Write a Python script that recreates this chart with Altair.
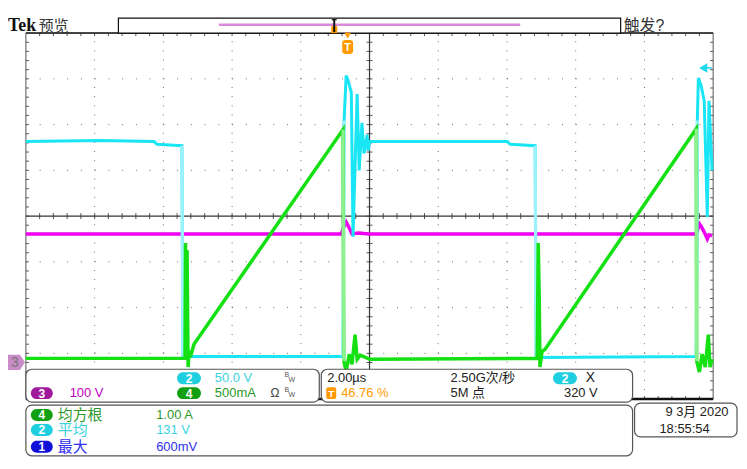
import altair as alt
import numpy as np
import pandas as pd

# ---------------- waveform data (time in µs, 2 µs/div; vertical in screen divisions) ----------------
cyan_t = [0, 2.14, 3.73, 3.82, 4.54, 4.57, 4.63, 4.75, 9.23, 9.26, 9.32, 9.38, 9.47, 9.52, 9.64, 9.70,
          9.78, 9.84, 9.93, 9.96, 10.01, 14.01, 14.10, 14.82, 14.85, 14.94, 19.51, 19.54, 19.57, 19.65,
          19.74, 19.83, 19.88, 19.97]
cyan_d = [1.63, 1.65, 1.63, 1.57, 1.54, -3.07, -3.09, -3.07, -3.07, 2.09, 3.07, 2.96, 2.70, -0.45, 2.67,
          1.00, 2.04, 1.37, 1.78, 1.43, 1.63, 1.63, 1.57, 1.54, -3.07, -3.09, -3.07, 2.09, 3.02, 2.85,
          2.52, -0.02, 2.52, 1.00]

green_t = [0, 4.63, 4.645, 4.66, 4.69, 4.72, 4.75, 4.81, 4.89, 9.23, 9.25, 9.32, 9.41, 9.49, 9.58, 9.64,
           9.73, 10.01, 14.88, 14.91, 14.94, 14.96, 15.02, 15.11, 19.51, 19.52, 19.60, 19.68, 19.77,
           19.86, 19.91, 19.97]
green_d = [-3.11, -3.11, -0.59, -1.83, -0.74, -3.30, -2.96, -3.02, -2.80, 1.89, -3.17, -3.39, -3.02,
           -3.24, -2.59, -3.13, -3.04, -3.13, -3.11, -0.59, -1.83, -3.30, -2.96, -2.91, 1.91, -3.17,
           -3.41, -3.02, -3.30, -2.59, -3.30, -3.13]

mag_t = [0, 9.18, 9.26, 9.32, 9.41, 9.49, 9.67, 9.99, 19.51, 19.60, 19.65, 19.74, 19.83, 19.88, 19.97]
mag_d = [-0.39, -0.39, -0.22, -0.13, -0.26, -0.39, -0.37, -0.39, -0.39, -0.17, -0.22, -0.35, -0.50,
         -0.41, -0.43]

# fast edges (drawn in a lighter shade, as on the scope's intensity-graded display): index pairs
cyan_edges = [(4, 5), (8, 9), (23, 24), (26, 27)]
green_edges = [(9, 10), (24, 25)]

# ---------------- readouts ----------------
ch2_scale = "50.0 V"
ch3_scale = "100 V"
ch4_scale = "500mA"
timebase = "2.00µs"
trig_pos = "46.76 %"
sample_rate = "2.50G次/秒"
record_len = "5M 点"
trig_level = "320 V"
meas_ch = ["4", "2", "1"]
meas_names = ["均方根", "平均", "最大"]
meas_values = ["1.00 A", "131 V", "600mV"]
date_str = "9 3月 2020"
time_str = "18:55:54"

# ---------------- layout ----------------
OFF = 8
W, H = 735, 452
GX0, GX1, GY0, GY1 = 26, 717, 32, 400
FONT = "Liberation Sans, Noto Sans CJK SC, sans-serif"

CY_TR, GR_TR, MG_TR = "#19e5f5", "#14e014", "#f000f0"
CY_ED, GR_ED = "#9cf2fb", "#8ef08e"
CYT, CYB = "#3cd2e2", "#1fcfdf"
MGT, PUB = "#c000c0", "#a0189c"
GRT, GRB = "#2a9a2a", "#12a012"
BLT, BLB = "#3030f0", "#1010d8"
ORT = "#ff9a00"


def P(v):
    return v - OFF


xs = alt.Scale(domain=[0, 20], range=[P(GX0), P(GX1)], nice=False, zero=False)
ys = alt.Scale(domain=[-4, 4], range=[P(GY1), P(GY0)], nice=False, zero=False)


def X(f):
    return alt.X(f, scale=xs, axis=None)


def Y(f):
    return alt.Y(f, scale=ys, axis=None)


def PX(f):
    return alt.X(f, scale=None, axis=None)


def PY(f):
    return alt.Y(f, scale=None, axis=None)


layers = []

# white background of whole canvas
bg = pd.DataFrame({"x": [0], "x2": [W], "y": [0], "y2": [H]})
layers.append(alt.Chart(bg).mark_rect(fill="white").encode(
    x=PX("x:Q"), x2="x2:Q", y=PY("y:Q"), y2="y2:Q"))

# dotted grid
vg = pd.DataFrame({"t": [2, 4, 6, 8, 12, 14, 16, 18], "a": -4, "b": 4})
layers.append(alt.Chart(vg).mark_rule(color="#6a6a6a", strokeWidth=1, strokeDash=[1, 8.2]).encode(
    x=X("t:Q"), y=Y("a:Q"), y2="b:Q"))
hg = pd.DataFrame({"d": [-3, -2, -1, 1, 2, 3], "a": 0, "b": 20})
layers.append(alt.Chart(hg).mark_rule(color="#6a6a6a", strokeWidth=1, strokeDash=[1, 12.82]).encode(
    y=Y("d:Q"), x=X("a:Q"), x2="b:Q"))

# ticks on border and on centre lines
tlx, tly = 3 / 34.55, 3 / 46.0
rows = []
for k in range(1, 50):
    t = k * 0.4
    rows.append((t, t, 4, 4 - tly))
    rows.append((t, t, -4, -4 + tly))
    rows.append((t, t, -tly, tly))
for k in range(1, 40):
    d = -4 + k * 0.2
    rows.append((0, tlx, d, d))
    rows.append((20, 20 - tlx, d, d))
    rows.append((10 - tlx, 10 + tlx, d, d))
ticks = pd.DataFrame(rows, columns=["x", "x2", "y", "y2"])
layers.append(alt.Chart(ticks).mark_rule(color="#555", strokeWidth=1).encode(
    x=X("x:Q"), x2="x2:Q", y=Y("y:Q"), y2="y2:Q"))

# centre cross
layers.append(alt.Chart(pd.DataFrame({"t": [10], "a": [-4], "b": [4]})).mark_rule(
    color="#333", strokeWidth=1.2).encode(x=X("t:Q"), y=Y("a:Q"), y2="b:Q"))
layers.append(alt.Chart(pd.DataFrame({"d": [0], "a": [0], "b": [20]})).mark_rule(
    color="#333", strokeWidth=1.2).encode(y=Y("d:Q"), x=X("a:Q"), x2="b:Q"))

# border
layers.append(alt.Chart(pd.DataFrame({"x": [0], "x2": [20], "y": [-4], "y2": [4]})).mark_rect(
    fill="transparent", stroke="#555", strokeWidth=1).encode(
    x=X("x:Q"), x2="x2:Q", y=Y("y:Q"), y2="y2:Q"))
layers.append(alt.Chart(pd.DataFrame({"d": [4], "a": [0], "b": [20]})).mark_rule(
    color="#222", strokeWidth=1.5).encode(y=Y("d:Q"), x=X("a:Q"), x2="b:Q"))
layers.append(alt.Chart(pd.DataFrame({"d": [-4], "a": [0], "b": [20]})).mark_rule(
    color="#111", strokeWidth=2.5).encode(y=Y("d:Q"), x=X("a:Q"), x2="b:Q"))


# traces
def trace(t, d, color, sw):
    df = pd.DataFrame({"t": t, "d": d, "i": range(len(t))})
    return alt.Chart(df).mark_line(color=color, strokeWidth=sw).encode(
        x=X("t:Q"), y=Y("d:Q"), order="i:Q")


def edges(t, d, pairs, color, sw):
    df = pd.DataFrame([(t[a], t[b], d[a], d[b]) for a, b in pairs], columns=["x", "x2", "y", "y2"])
    return alt.Chart(df).mark_rule(color=color, strokeWidth=sw).encode(
        x=X("x:Q"), x2="x2:Q", y=Y("y:Q"), y2="y2:Q")


layers.append(trace(mag_t, mag_d, MG_TR, 3.5))
layers.append(trace(cyan_t, cyan_d, CY_TR, 3))
layers.append(edges(cyan_t, cyan_d, cyan_edges, CY_ED, 3.2))
layers.append(trace(green_t, green_d, GR_TR, 3.5))
layers.append(edges(green_t, green_d, green_edges, GR_ED, 3.2))


# ---------- pixel-positioned decorations ----------
def rects(items, **kw):
    df = pd.DataFrame([(P(a), P(c), P(b), P(d), f) for (a, b, c, d, f) in items],
                      columns=["x", "x2", "y", "y2", "f"])
    return alt.Chart(df).mark_rect(**kw).encode(
        x=PX("x:Q"), x2="x2:Q", y=PY("y:Q"), y2="y2:Q",
        fill=alt.Fill("f:N", scale=None))


def texts(items, align="left", weight="normal", font=FONT):
    df = pd.DataFrame([(P(x), P(y), s, c, z) for (x, y, s, c, z) in items],
                      columns=["x", "y", "s", "c", "z"])
    return alt.Chart(df).mark_text(align=align, baseline="middle", font=font, fontWeight=weight).encode(
        x=PX("x:Q"), y=PY("y:Q"), text="s:N",
        color=alt.Color("c:N", scale=None), size=alt.Size("z:Q", scale=None))


def rules(items):
    df = pd.DataFrame([(P(a), P(c), P(b), P(d), col, w) for (a, b, c, d, col, w) in items],
                      columns=["x", "x2", "y", "y2", "c", "w"])
    return alt.Chart(df).mark_rule().encode(
        x=PX("x:Q"), x2="x2:Q", y=PY("y:Q"), y2="y2:Q",
        color=alt.Color("c:N", scale=None), size=alt.Size("w:Q", scale=None))


def points(items, shape, size):
    df = pd.DataFrame([(P(x), P(y), c) for (x, y, c) in items], columns=["x", "y", "c"])
    return alt.Chart(df).mark_point(shape=shape, filled=True, size=size, opacity=1).encode(
        x=PX("x:Q"), y=PY("y:Q"), fill=alt.Fill("c:N", scale=None))


# record bar at top
layers.append(rects([(119, 17, 624, 32, "white")], stroke="#111", strokeWidth=1.2))
layers.append(rules([(220, 23.5, 523, 23.5, "#d98ad9", 2.5)]))
layers.append(rects([(333, 25, 339, 32, ORT)]))
layers.append(rules([(336, 18, 336, 31, "#111", 2), (333.5, 18.5, 338.5, 18.5, "#111", 1.2)]))

# trigger position marker
layers.append(points([(349.5, 34.5, ORT)], "triangle-down", 45))
layers.append(rects([(344, 39, 355, 53, ORT)], cornerRadius=3))
layers.append(texts([(349.5, 46.5, "T", "white", 11)], align="center", weight="bold"))

# trigger level arrow (right)
layers.append(points([(707, 67, "#22d8ee")], "triangle-left", 90))
layers.append(rules([(709, 67, 716, 67, "#22d8ee", 1.5)]))

# channel 3 ground marker (left)
layers.append(points([(16, 363, "#c88cc8")],
                     "M-1,-0.85L0.45,-0.85L1,0L0.45,0.85L-1,0.85Z", 324))
layers.append(texts([(15, 363.5, "3", "#777", 14)], align="center"))

# info boxes
layers.append(rects([(26, 370, 321, 403, "white"), (323, 370, 636, 403, "white"),
                     (26, 406, 636, 457, "white"), (638, 404, 741, 438, "white")],
                    cornerRadius=6, stroke="#555", strokeWidth=1.2))

# badges
badges = [(178, 373, 202, 385, CYB, "2"), (31, 388, 53, 400, PUB, "3"), (178, 388, 202, 400, GRB, "4"),
          (556, 373, 580, 385, CYB, "2"),
          (31, 410, 53, 422, GRB, meas_ch[0]), (31, 425, 53, 437, CYB, meas_ch[1]),
          (31, 442, 53, 454, BLB, meas_ch[2])]
layers.append(rects([(a, b, c, d, f) for (a, b, c, d, f, _) in badges], cornerRadius=6))
layers.append(texts([((a + c) / 2, (b + d) / 2 + 0.5, s, "white", 12) for (a, b, c, d, f, s) in badges],
                    align="center", weight="bold"))
layers.append(rects([(328, 388, 338, 400, ORT)], cornerRadius=2))
layers.append(texts([(333, 394.5, "T", "white", 10)], align="center", weight="bold"))

# top texts
layers.append(texts([(8, 25, "Tek", "#111", 18)], weight="bold", font="Liberation Serif"))

left_texts = [
    (39, 25, "预览", "#333", 15),
    (627, 25, "触发?", "#333", 16),
    (216, 379, ch2_scale, CYT, 13),
    (70, 394, ch3_scale, MGT, 13),
    (216, 394, ch4_scale, GRT, 13),
    (272, 394, "Ω", "#444", 12),
    (286, 376, "B", "#555", 7), (290, 381, "W", "#555", 7),
    (286, 391, "B", "#555", 7), (290, 396, "W", "#555", 7),
    (329, 379, timebase, "#222", 13),
    (343, 394, trig_pos, ORT, 13),
    (453, 379, sample_rate, "#222", 13),
    (453, 394, record_len, "#222", 13),
    (589, 379, "X", "#222", 14),
    (567, 394, trig_level, "#222", 13),
    (58, 416, meas_names[0], GRT, 15), (157, 416, meas_values[0], GRT, 13),
    (58, 431, meas_names[1], CYT, 15), (157, 431, meas_values[1], CYT, 13),
    (58, 448, meas_names[2], BLT, 15), (157, 448, meas_values[2], BLT, 13),
    (669, 413, date_str, "#222", 13),
    (663, 430, time_str, "#222", 13),
]
layers.append(texts(left_texts))

chart = alt.layer(*layers).properties(
    width=W, height=H,
    autosize=alt.AutoSizeParams(type="none"),
    padding=0,
    background="white",
).configure_view(stroke=None)

chart.save("out.html", embed_options={"renderer": "svg", "actions": False})
